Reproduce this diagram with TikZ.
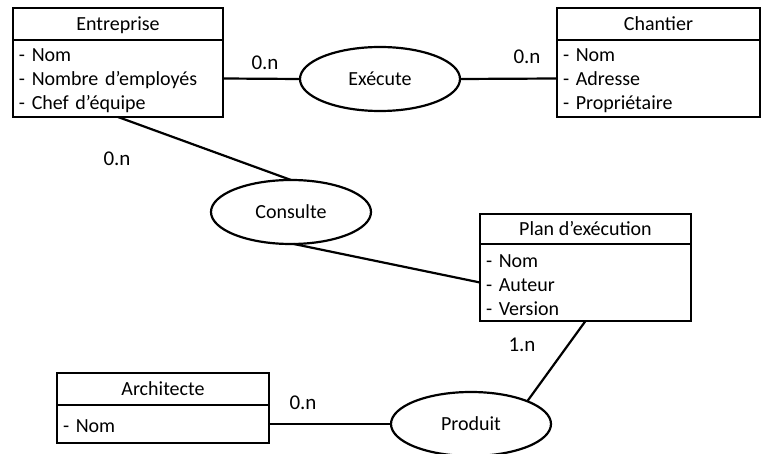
\documentclass[tikz,border=0pt]{standalone}
\usepackage{fontspec}
\setmainfont{Carlito}
\usetikzlibrary{shapes.geometric}
\tikzset{
	titre/.style={draw, line width=2.2pt, inner sep=0pt, outer sep=0pt, minimum height=32pt, anchor=north west, text depth=1pt, font=\fontsize{20}{24}\selectfont},
	attr/.style={draw, line width=2.2pt, inner xsep=6pt, inner ysep=0pt, outer sep=0pt, anchor=north west, align=left, execute at begin node={\rule{0pt}{18pt}}, font=\fontsize{20}{24}\selectfont},
	assoc/.style={draw, ellipse, line width=2.2pt, inner sep=0pt, outer sep=0pt, minimum width=160pt, minimum height=64pt, font=\fontsize{20}{24}\selectfont},
	lien/.style={line width=2.2pt},
	card/.style={font=\fontsize{21}{24}\selectfont}
}

\begin{document}
\begin{tikzpicture}[x=1pt, y=-1pt]
		\useasboundingbox (0,0) rectangle (761,454);
		
		% entites
		\node[titre, minimum width=210pt] (entreprise) at (13,8) {Entreprise};
		\node[attr, text width=198pt, minimum height=77pt] (entreprise-attr) at (entreprise.south west) {- Nom\\- Nombre d’employés\\- Chef d’équipe};
		
		\node[titre, minimum width=203pt] (chantier) at (557,8) {Chantier};
		\node[attr, text width=191pt, minimum height=77pt] (chantier-attr) at (chantier.south west) {- Nom\\- Adresse\\- Propriétaire};
		
		\node[titre, minimum width=211pt, minimum height=30pt] (plan) at (480,214) {Plan d’exécution};
		\node[attr, text width=199pt, minimum height=77pt] (plan-attr) at (plan.south west) {- Nom\\- Auteur\\- Version};
		
		\node[titre, minimum width=212pt] (architecte) at (57,373) {Architecte};
		\node[attr, text width=200pt, minimum height=38pt] (architecte-attr) at (architecte.south west) {- Nom};
		
		% associations
		\node[assoc] (execute) at (380,79) {Exécute};
		\node[assoc] (consulte) at (291,212) {Consulte};
		\node[assoc] (produit) at (471,424) {Produit};
		
		\draw[lien] (entreprise-attr.east) -- (execute.west);
		\draw[lien] (execute.east) -- (chantier-attr.west);
		\draw[lien] (entreprise-attr.south) -- (consulte.north);
		\draw[lien] (consulte.-85) -- (plan-attr.west);
		\draw[lien] (plan-attr.south) -- (produit.22);
		\draw[lien] (architecte-attr.east) -- (produit.west);
		
		% cardinalites
		\node[card] (c1) at (265,63) {0.n};
		\node[card] (c2) at (527,57) {0.n};
		\node[card] (c3) at (117,159) {0.n};
		\node[card] (c4) at (522,345) {1.n};
		\node[card] (c5) at (303,403) {0.n};
\end{tikzpicture}
\end{document}
